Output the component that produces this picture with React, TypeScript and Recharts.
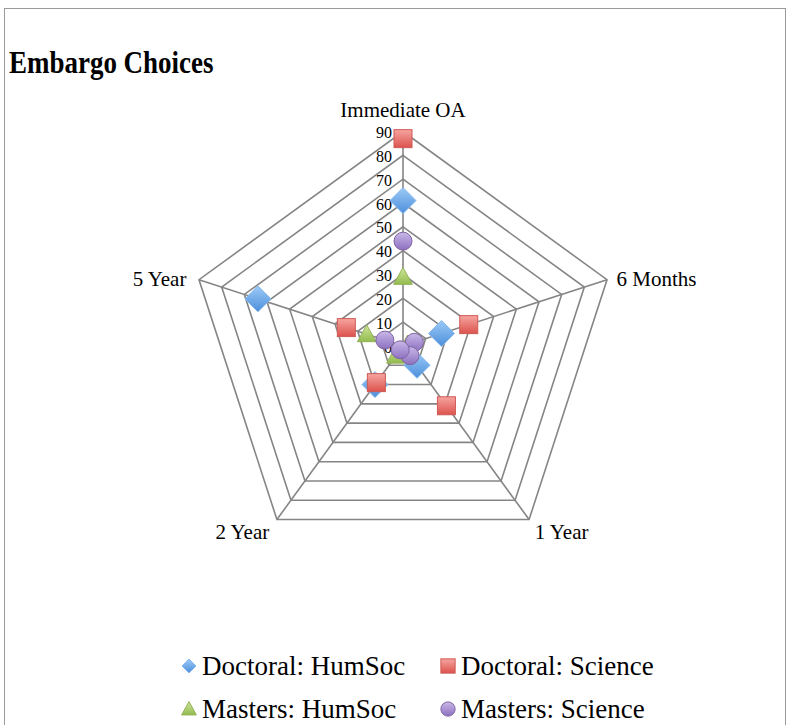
import { RadarChart, Radar, PolarGrid, PolarAngleAxis, PolarRadiusAxis } from "recharts";

// embargo periods, clockwise from the top
const periods = ["Immediate OA", "6 Months", "1 Year", "2 Year", "5 Year"];

const doctoralHumSoc = [61, 17, 10, 20, 64];
const doctoralScience = [87, 29, 31, 19, 25];
const mastersHumSoc = [29, 2, 3, 5, 16];
const mastersScience = [44, 5, 5, 2, 8];

const seriesNames = ["Doctoral: HumSoc", "Doctoral: Science", "Masters: HumSoc", "Masters: Science"];

const data = periods.map((period, i) => ({
  period,
  dh: doctoralHumSoc[i],
  ds: doctoralScience[i],
  mh: mastersHumSoc[i],
  ms: mastersScience[i],
}));

const SERIF = "'Liberation Serif', 'DejaVu Serif', serif";

type Shape = "diamond" | "square" | "triangle" | "circle";

function Marker({ shape, x, y, s }: { shape: Shape; x: number; y: number; s: number }) {
  if (shape === "diamond") {
    return (
      <polygon
        points={`${x},${y - s} ${x + s},${y} ${x},${y + s} ${x - s},${y}`}
        fill="url(#gBlue)"
        stroke="#86b8ee"
        strokeWidth={1}
      />
    );
  }
  if (shape === "square") {
    const h = s * 0.75;
    return (
      <rect x={x - h} y={y - h} width={h * 2} height={h * 2} fill="url(#gRed)" stroke="#cf5a55" strokeWidth={1} />
    );
  }
  if (shape === "triangle") {
    const h = s * 0.78;
    return (
      <polygon
        points={`${x},${y - h} ${x + h},${y + h * 0.8} ${x - h},${y + h * 0.8}`}
        fill="url(#gGreen)"
        stroke="#93b356"
        strokeWidth={1}
      />
    );
  }
  return <circle cx={x} cy={y} r={s * 0.75} fill="url(#gPurple)" stroke="#8064a2" strokeWidth={1} />;
}

const dotOf = (shape: Shape) => (props: any) =>
  <Marker key={`${shape}-${props.index}`} shape={shape} x={props.cx} y={props.cy} s={shape === "diamond" ? 13 : 12} />;

// label offsets for the five corners (top, right, lower right, lower left, left)
const angleLabel = [
  { dx: 0, dy: -14, anchor: "middle" },
  { dx: 2, dy: 2, anchor: "start" },
  { dx: 1, dy: 6, anchor: "start" },
  { dx: -3, dy: 6, anchor: "end" },
  { dx: -5, dy: 2, anchor: "end" },
];

const AngleTick = (props: any) => {
  const i = periods.indexOf(props.payload.value);
  const o = angleLabel[i] || angleLabel[0];
  return (
    <text
      x={props.x + o.dx}
      y={props.y + o.dy}
      textAnchor={o.anchor}
      dominantBaseline="central"
      fontFamily={SERIF}
      fontSize={21}
      fill="#000"
    >
      {props.payload.value}
    </text>
  );
};

const RadiusTick = (props: any) => (
  <text
    x={props.x - 11}
    y={props.y + 1}
    textAnchor="end"
    dominantBaseline="central"
    fontFamily={SERIF}
    fontSize={16}
    fill="#000"
  >
    {props.payload.value}
  </text>
);

const legendItems: { name: string; shape: Shape }[] = [
  { name: seriesNames[0], shape: "diamond" },
  { name: seriesNames[1], shape: "square" },
  { name: seriesNames[2], shape: "triangle" },
  { name: seriesNames[3], shape: "circle" },
];

export default function App() {
  return (
    <div
      style={{
        position: "absolute",
        left: 0,
        top: 0,
        width: 789,
        height: 725,
        overflow: "hidden",
        background: "#fff",
      }}
    >
      <svg width={0} height={0} style={{ position: "absolute" }}>
        <defs>
          <linearGradient id="gBlue" x1="0" y1="0" x2="0" y2="1">
            <stop offset="0%" stopColor="#9ccaf7" />
            <stop offset="100%" stopColor="#4d8fdb" />
          </linearGradient>
          <linearGradient id="gRed" x1="0" y1="0" x2="0" y2="1">
            <stop offset="0%" stopColor="#f7a5a0" />
            <stop offset="100%" stopColor="#dc524d" />
          </linearGradient>
          <linearGradient id="gGreen" x1="0" y1="0" x2="0" y2="1">
            <stop offset="0%" stopColor="#cfe69c" />
            <stop offset="100%" stopColor="#93bb4f" />
          </linearGradient>
          <linearGradient id="gPurple" x1="0" y1="0" x2="0" y2="1">
            <stop offset="0%" stopColor="#c9b8e8" />
            <stop offset="100%" stopColor="#8d70c0" />
          </linearGradient>
        </defs>
      </svg>

      <div
        style={{
          position: "absolute",
          left: 4,
          top: 8,
          width: 782,
          height: 760,
          border: "1.5px solid #9b9b9b",
          boxSizing: "border-box",
        }}
      />

      <div
        style={{
          position: "absolute",
          left: 9,
          top: 47,
          fontFamily: SERIF,
          fontWeight: "bold",
          fontSize: 31,
          lineHeight: "31px",
          color: "#000",
          transform: "scaleX(0.87)",
          transformOrigin: "left center",
          whiteSpace: "nowrap",
        }}
      >
        Embargo Choices
      </div>

      <div style={{ position: "absolute", left: 0, top: 0 }}>
        <RadarChart
          width={789}
          height={725}
          cx={403}
          cy={346}
          outerRadius={214.5}
          data={data}
          margin={{ top: 0, right: 0, bottom: 0, left: 0 }}
        >
          <PolarGrid gridType="polygon" stroke="#858585" strokeWidth={1.6} />
          <PolarAngleAxis dataKey="period" tick={AngleTick} tickLine={false} axisLine={false} />
          <PolarRadiusAxis
            angle={90}
            domain={[0, 90]}
            tickCount={10}
            axisLine={false}
            tick={RadiusTick}
          />
          <Radar name={seriesNames[0]} dataKey="dh" stroke="none" fill="none" dot={dotOf("diamond")} isAnimationActive={false} />
          <Radar name={seriesNames[1]} dataKey="ds" stroke="none" fill="none" dot={dotOf("square")} isAnimationActive={false} />
          <Radar name={seriesNames[2]} dataKey="mh" stroke="none" fill="none" dot={dotOf("triangle")} isAnimationActive={false} />
          <Radar name={seriesNames[3]} dataKey="ms" stroke="none" fill="none" dot={dotOf("circle")} isAnimationActive={false} />
        </RadarChart>
      </div>

      {legendItems.map((item, i) => {
        const col = i % 2;
        const row = Math.floor(i / 2);
        const left = col === 0 ? 179 : 438;
        const top = row === 0 ? 666 : 709;
        return (
          <div
            key={item.name}
            style={{
              position: "absolute",
              left,
              top: top - 18,
              height: 36,
              display: "flex",
              alignItems: "center",
              fontFamily: SERIF,
              fontSize: 27,
              color: "#000",
              whiteSpace: "nowrap",
            }}
          >
            <svg width={20} height={20} style={{ marginRight: 3 }}>
              <Marker shape={item.shape} x={10} y={10} s={item.shape === "diamond" ? 7 : 9.5} />
            </svg>
            {item.name}
          </div>
        );
      })}
    </div>
  );
}
